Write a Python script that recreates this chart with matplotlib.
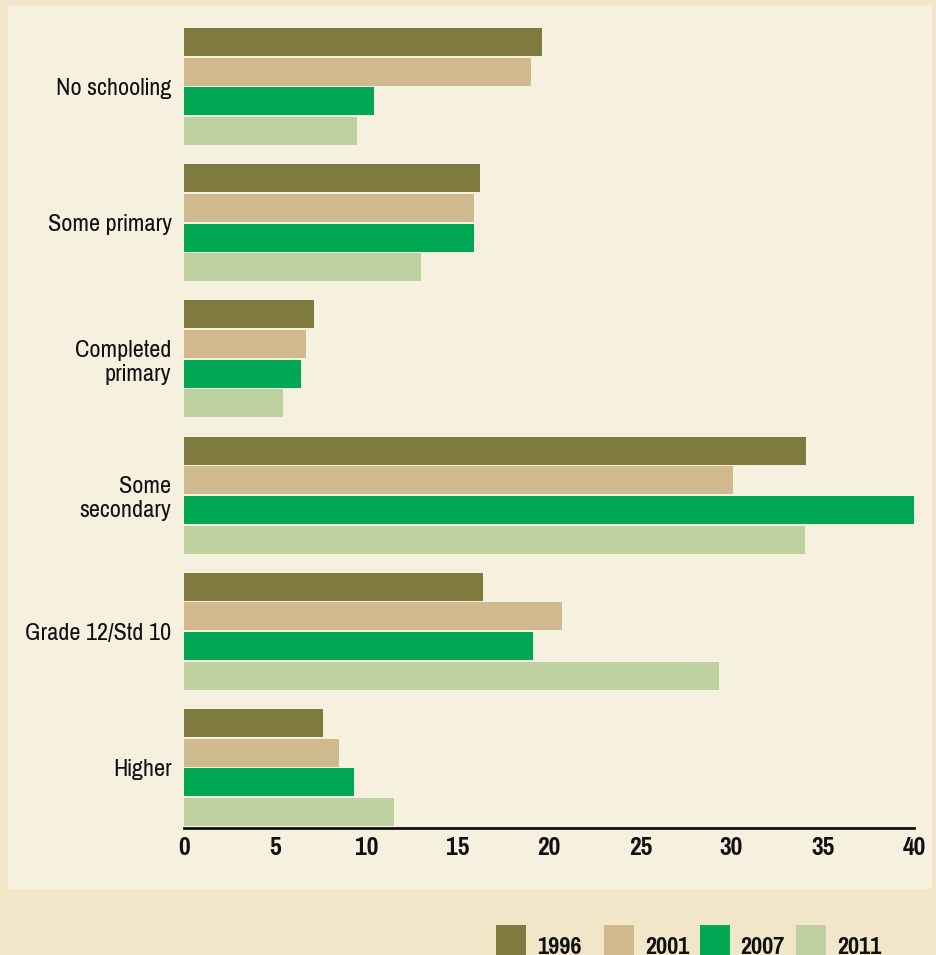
import matplotlib
matplotlib.use("Agg")
import matplotlib.pyplot as plt
from matplotlib.patches import Rectangle

# Education level shares (%) by census/survey year
categories = ["No schooling", "Some primary", "Completed\nprimary",
              "Some\nsecondary", "Grade 12/Std 10", "Higher"]
years = ["1996", "2001", "2007", "2011"]
values_1996 = [19.6, 16.2, 7.1, 34.1, 16.4, 7.6]
values_2001 = [19.0, 15.9, 6.7, 30.1, 20.7, 8.5]
values_2007 = [10.4, 15.9, 6.4, 40.0, 19.1, 9.3]
values_2011 = [9.5, 13.0, 5.4, 34.0, 29.3, 11.5]
series = [values_1996, values_2001, values_2007, values_2011]
colors = ["#7f7a3e", "#d0b98c", "#00a853", "#bdd09f"]
xticks = [0, 5, 10, 15, 20, 25, 30, 35, 40]

OUTER_BG = "#f1e6c7"
INNER_BG = "#f6f0df"

W, H = 936, 955
fig = plt.figure(figsize=(W / 100, H / 100), dpi=100)
fig.patch.set_facecolor(OUTER_BG)

# light inner panel
fig.add_artist(Rectangle((8 / W, 1 - 889 / H), (932 - 8) / W, (889 - 5) / H,
                         transform=fig.transFigure, facecolor=INNER_BG,
                         edgecolor="none", zorder=0))

ax = fig.add_axes([184 / W, 1 - 828 / H, (914 - 184) / W, (828 - 15) / H])
ax.set_facecolor("none")

narrow = ["Pragati Narrow", "Liberation Sans", "DejaVu Sans"]

group_gap = 4.586
bar_h = 0.943
centers = [i * group_gap for i in range(len(categories))]
for j, (vals, col) in enumerate(zip(series, colors)):
    ys = [c + (j - 1.5) for c in centers]
    ax.barh(ys, vals, height=bar_h, color=col, edgecolor="none", zorder=2)

ax.set_xlim(0, 40)
ax.set_ylim(centers[-1] + 1.5 + bar_h / 2 + 0.07, -2.41)

ax.set_yticks(centers)
ax.set_yticklabels(categories, fontsize=19, family=narrow, color="#111111",
                   linespacing=1.2)
ax.set_xticks(xticks)
ax.set_xticklabels([str(t) for t in xticks], fontsize=20, family=narrow,
                   fontweight="bold", color="#111111")
ax.tick_params(axis="y", length=0, pad=9)
ax.tick_params(axis="x", length=0, pad=6)

for s in ["top", "right", "left"]:
    ax.spines[s].set_visible(False)
ax.spines["bottom"].set_linewidth(2.0)
ax.spines["bottom"].set_color("#111111")
ax.spines["bottom"].set_zorder(3)

# legend row along the bottom edge
sq_x = [496, 604, 699.5, 796]
for x0, yr, col in zip(sq_x, years, colors):
    fig.add_artist(Rectangle((x0 / W, 1 - 955 / H), 30 / W, 30 / H,
                             transform=fig.transFigure, facecolor=col,
                             edgecolor="none"))
    fig.text((x0 + 41) / W, 1 - 947 / H, yr, fontsize=19, family=narrow,
             fontweight="bold", color="#111111", ha="left", va="center")

fig.savefig("out.png", dpi=100, facecolor=OUTER_BG)
